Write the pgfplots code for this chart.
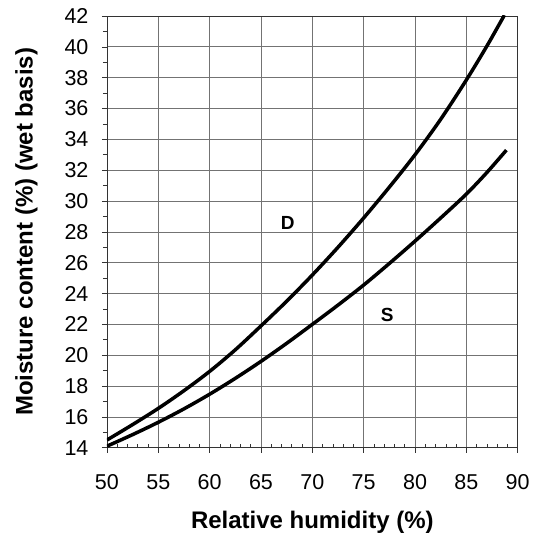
\documentclass[border=0pt]{standalone}
\usepackage{pgfplots}
\pgfplotsset{compat=1.18}
\usepackage{fontspec}
\setmainfont{Liberation Sans}
\begin{document}
\begin{tikzpicture}
\begin{axis}[
  scale only axis,
  width=411pt, height=432pt,
  xmin=50, xmax=90, ymin=14, ymax=42,
  xtick={50,55,...,90}, ytick={14,16,...,42},
  xtick pos=bottom, ytick pos=left,
  minor x tick num=4, minor y tick num=1,
  grid=major,
  major grid style={line width=0.7pt, draw=black!55},
  axis line style={line width=0.8pt, draw=black!80},
  tick style={draw=black!80, line width=0.6pt},
  tick align=outside,
  minor x tick style={yshift=4pt},
  major tick length=5pt, minor tick length=4pt,
  xticklabel style={font=\fontsize{21.5}{23}\selectfont, yshift=-18pt},
  yticklabel style={font=\fontsize{21.5}{23}\selectfont, xshift=-10pt},
  xlabel={\textbf{Relative humidity (\%)}},
  ylabel={\textbf{Moisture content (\%) (wet basis)}},
  label style={font=\fontsize{24}{26}\selectfont},
  xlabel style={yshift=-15pt},
  ylabel style={yshift=20pt},
  /pgf/number format/assume math mode=true,
]
\addplot[black, line width=3.5pt, smooth] coordinates {
(50,14.5) (52.5,15.5) (55,16.55) (57.5,17.7) (60,18.95) (62.5,20.35) (65,21.9) (67.5,23.5) (70,25.2) (72.5,27.0) (75,28.9) (77.5,30.9) (80,33.0) (82.5,35.3) (85,37.85) (87,40.05) (88.7,42.05)
};
\addplot[black, line width=3.5pt, smooth] coordinates {
(50,14.1) (52.5,14.85) (55,15.65) (57.5,16.52) (60,17.47) (62.5,18.5) (65,19.6) (67.5,20.77) (70,22.0) (72.5,23.25) (75,24.55) (77.5,25.95) (80,27.4) (82.5,28.9) (85,30.45) (87,31.85) (88.9,33.3)
};
\node[font=\fontsize{19}{21}\selectfont\bfseries] at (axis cs:67.6,28.6) {D};
\node[font=\fontsize{19}{21}\selectfont\bfseries] at (axis cs:77.3,22.6) {S};
\end{axis}
\path (current axis.south west) ++(-107pt,-89pt) (current axis.north east) ++(17pt,16pt);
\end{tikzpicture}
\end{document}
